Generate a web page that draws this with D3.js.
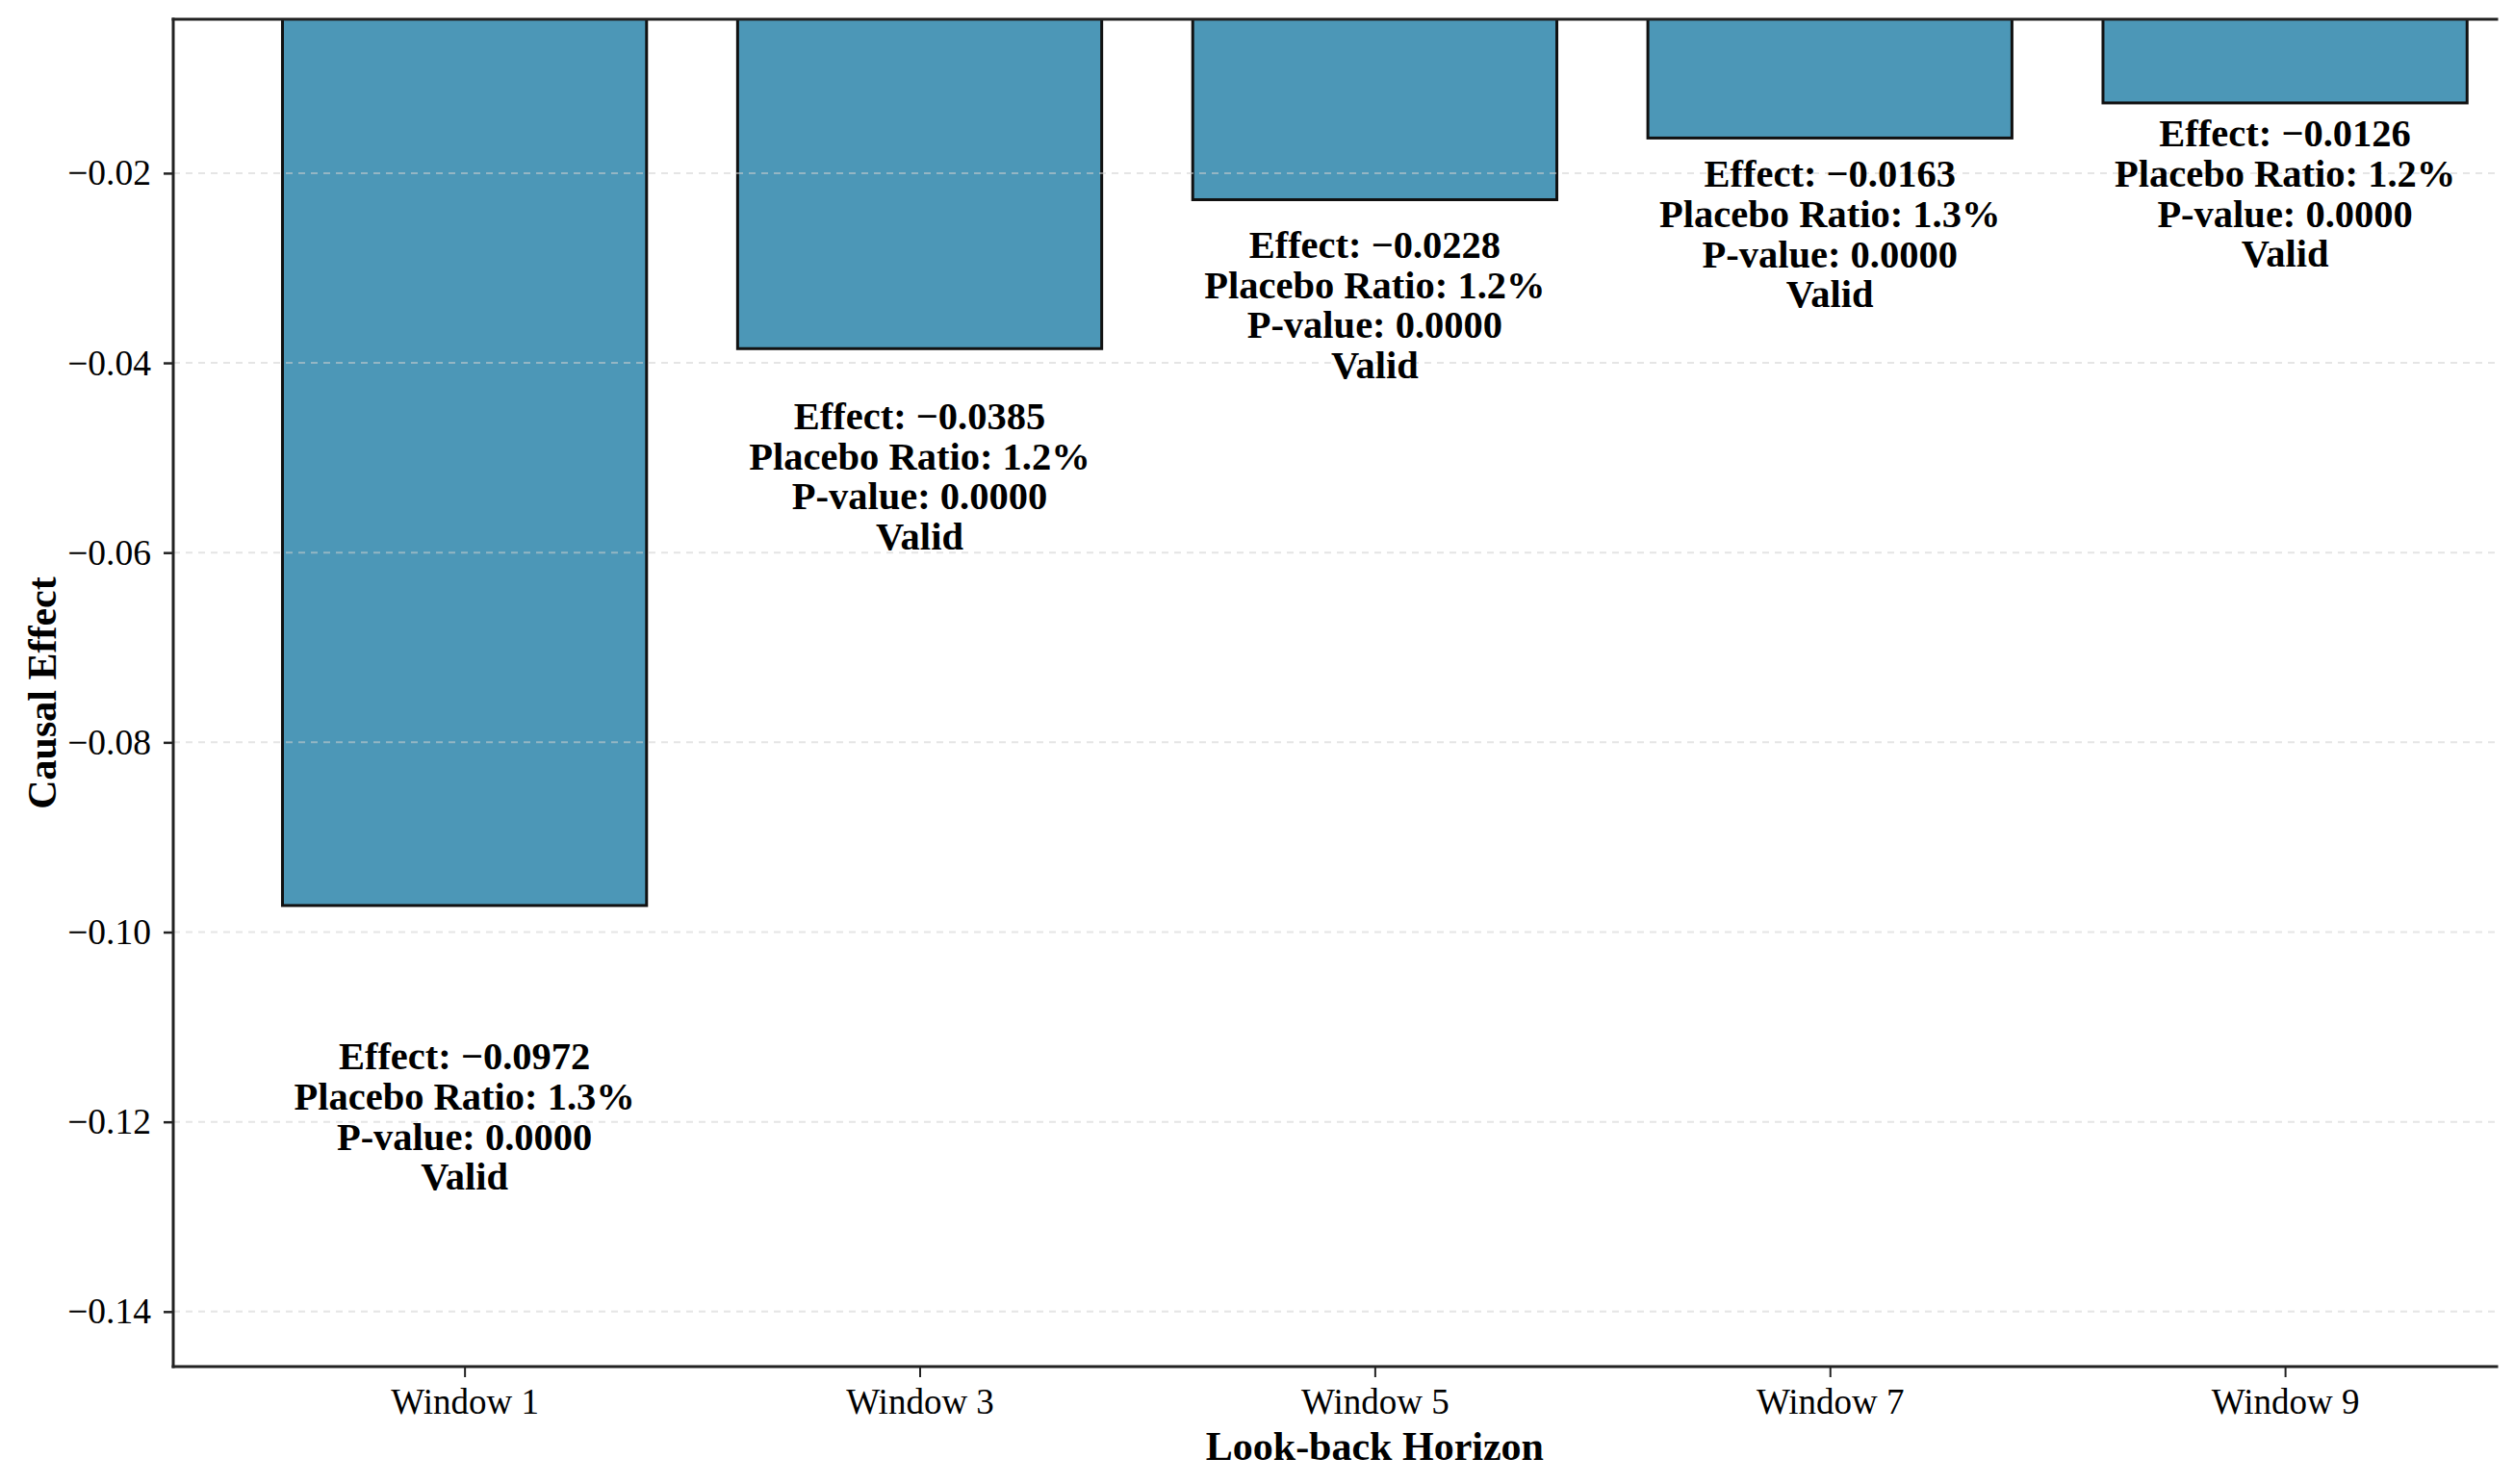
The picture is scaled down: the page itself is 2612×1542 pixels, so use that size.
<!DOCTYPE html>
<html>
<head>
<meta charset="utf-8">
<script src="https://cdn.jsdelivr.net/npm/d3@7"></script>
<style>
  body { margin: 0; background: #fff; }
  text { font-family: "Liberation Serif", "Times New Roman", serif; fill: #000; }
</style>
</head>
<body>
<div id="chart"></div>
<script>
// data
const windows = ['Window 1', 'Window 3', 'Window 5', 'Window 7', 'Window 9'];
const effects = [-0.0972, -0.0385, -0.0228, -0.0163, -0.0126];
const placeboRatios = [1.3, 1.2, 1.2, 1.3, 1.2];
const pValues = [0.0000, 0.0000, 0.0000, 0.0000, 0.0000];
const statuses = ['Valid', 'Valid', 'Valid', 'Valid', 'Valid'];
const yTicks = [-0.14, -0.12, -0.10, -0.08, -0.06, -0.04, -0.02];

const width = 2612, height = 1542;
const plot = { left: 180, right: 2594, top: 20, bottom: 1420 };

const svg = d3.select('#chart')
  .append('svg')
  .attr('width', width)
  .attr('height', height)
  .style('background', '#fff');

// y limits follow the matplotlib style: 1.5x the deepest bar, 0.3x the shallowest
const yMin = d3.min(effects) * 1.5;
const yMax = d3.max(effects) * 0.3;
const y = d3.scaleLinear().domain([yMin, yMax]).range([plot.bottom, plot.top]);
const x = d3.scaleLinear().domain([-0.64, 4.465]).range([plot.left, plot.right]);
const barW = x(0.8) - x(0);

svg.append('clipPath').attr('id', 'plot-clip')
  .append('rect')
  .attr('x', plot.left).attr('y', plot.top)
  .attr('width', plot.right - plot.left)
  .attr('height', plot.bottom - plot.top);

// bars
svg.append('g')
  .attr('clip-path', 'url(#plot-clip)')
  .selectAll('rect')
  .data(effects)
  .enter().append('rect')
  .attr('x', (d, i) => x(i) - barW / 2)
  .attr('y', d => y(0))
  .attr('width', barW)
  .attr('height', d => y(d) - y(0))
  .style('fill', '#2E86AB')
  .style('fill-opacity', 0.86)
  .style('stroke', '#111')
  .style('stroke-width', 3);

// dashed horizontal grid, drawn over the bars
svg.append('g')
  .selectAll('line')
  .data(yTicks)
  .enter().append('line')
  .attr('x1', plot.left)
  .attr('x2', plot.right)
  .attr('y1', d => y(d))
  .attr('y2', d => y(d))
  .style('stroke', '#cfcfcf')
  .style('stroke-opacity', 0.55)
  .style('stroke-width', 2)
  .style('stroke-dasharray', '7,6');

// y axis
const fmt = d => (d < 0 ? '\u2212' : '') + Math.abs(d).toFixed(2);
const yAxis = svg.append('g')
  .attr('transform', `translate(${plot.left},0)`)
  .call(d3.axisLeft(y).tickValues(yTicks).tickFormat(fmt).tickSize(10).tickPadding(13));
yAxis.select('.domain').remove();
yAxis.selectAll('.tick line').style('stroke', '#222').style('stroke-width', 2.5);
yAxis.selectAll('.tick text')
  .style('font-family', '"Liberation Serif", serif')
  .style('font-size', '37.5px')
  .style('fill', '#000');

// x axis
const xAxis = svg.append('g')
  .attr('transform', `translate(0,${plot.bottom})`)
  .call(d3.axisBottom(x).tickValues(d3.range(windows.length))
    .tickFormat(i => windows[i]).tickSize(11).tickPadding(11.5));
xAxis.select('.domain').remove();
xAxis.selectAll('.tick line').style('stroke', '#222').style('stroke-width', 2);
xAxis.selectAll('.tick text')
  .style('font-family', '"Liberation Serif", serif')
  .style('font-size', '37px')
  .style('fill', '#000');

// spines: left, bottom, top
const spine = [
  [plot.left, plot.top, plot.left, plot.bottom],
  [plot.left, plot.bottom, plot.right, plot.bottom],
  [plot.left, plot.top, plot.right, plot.top]
];
svg.append('g')
  .selectAll('line')
  .data(spine)
  .enter().append('line')
  .attr('x1', d => d[0]).attr('y1', d => d[1])
  .attr('x2', d => d[2]).attr('y2', d => d[3])
  .style('stroke', '#222')
  .style('stroke-width', 3)
  .style('stroke-linecap', 'square');

// annotations under each bar
const labels = svg.append('g')
  .selectAll('text')
  .data(effects)
  .enter().append('text')
  .attr('text-anchor', 'middle')
  .style('font-size', '40.5px')
  .style('font-weight', 'bold')
  .attr('x', (d, i) => x(i))
  .attr('y', d => y(d * 1.15));

labels.each(function (d, i) {
  const lines = [
    `Effect: \u2212${Math.abs(d).toFixed(4)}`,
    `Placebo Ratio: ${placeboRatios[i].toFixed(1)}%`,
    `P-value: ${pValues[i].toFixed(4)}`,
    statuses[i]
  ];
  d3.select(this).selectAll('tspan')
    .data(lines)
    .enter().append('tspan')
    .attr('x', x(i))
    .attr('dy', (l, k) => k === 0 ? '0.66em' : '41.7px')
    .text(l => l);
});

// axis titles
svg.append('text')
  .attr('x', x((windows.length - 1) / 2))
  .attr('y', 1517)
  .attr('text-anchor', 'middle')
  .style('font-size', '42px')
  .style('font-weight', 'bold')
  .text('Look-back Horizon');

svg.append('text')
  .attr('transform', `translate(58,${(plot.top + plot.bottom) / 2}) rotate(-90)`)
  .attr('text-anchor', 'middle')
  .style('font-size', '42px')
  .style('font-weight', 'bold')
  .text('Causal Effect');
</script>
</body>
</html>
